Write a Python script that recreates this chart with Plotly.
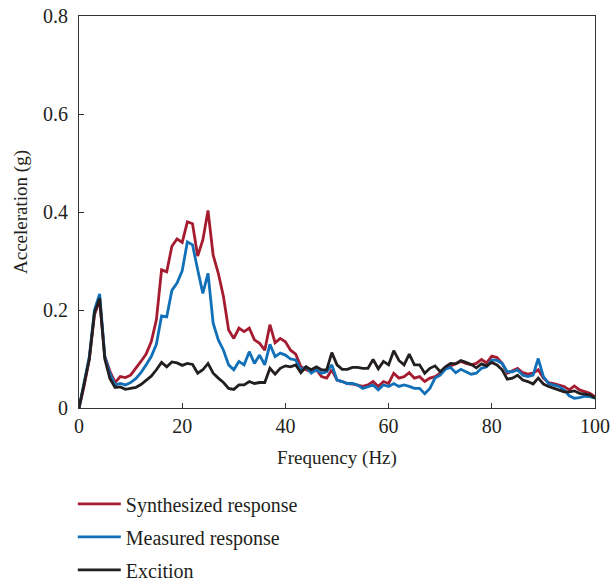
import plotly.graph_objects as go

freq = list(range(0, 101))

synthesized = [
    0, 0.045, 0.1, 0.19, 0.22, 0.105, 0.075, 0.052, 0.064, 0.062,
    0.067, 0.08, 0.095, 0.11, 0.135, 0.18, 0.282, 0.278, 0.33, 0.345,
    0.338, 0.38, 0.376, 0.31, 0.343, 0.403, 0.312, 0.275, 0.227, 0.159,
    0.142, 0.163, 0.156, 0.163, 0.139, 0.132, 0.118, 0.17, 0.133, 0.142,
    0.135, 0.118, 0.11, 0.084, 0.078, 0.074, 0.078, 0.064, 0.061, 0.078,
    0.057, 0.054, 0.05, 0.049, 0.047, 0.044, 0.047, 0.054, 0.044, 0.054,
    0.05, 0.071, 0.061, 0.064, 0.072, 0.061, 0.064, 0.054, 0.061, 0.064,
    0.071, 0.081, 0.086, 0.091, 0.095, 0.091, 0.088, 0.091, 0.099, 0.092,
    0.106, 0.103, 0.091, 0.071, 0.076, 0.081, 0.072, 0.069, 0.071, 0.078,
    0.061, 0.052, 0.05, 0.047, 0.044, 0.037, 0.045, 0.037, 0.033, 0.03,
    0.023,
]

measured = [
    0, 0.05, 0.105, 0.2, 0.233, 0.105, 0.07, 0.047, 0.05, 0.047,
    0.052, 0.06, 0.072, 0.088, 0.105, 0.13, 0.188, 0.186, 0.24, 0.255,
    0.28, 0.339, 0.333, 0.282, 0.234, 0.275, 0.173, 0.139, 0.118, 0.088,
    0.078, 0.095, 0.088, 0.115, 0.091, 0.108, 0.088, 0.13, 0.105, 0.112,
    0.108, 0.1, 0.098, 0.078, 0.084, 0.071, 0.078, 0.071, 0.074, 0.088,
    0.057, 0.054, 0.05, 0.05, 0.047, 0.04, 0.044, 0.047, 0.037, 0.047,
    0.044, 0.05, 0.044, 0.047, 0.044, 0.04, 0.04, 0.029, 0.04, 0.061,
    0.067, 0.079, 0.083, 0.072, 0.079, 0.074, 0.069, 0.071, 0.081, 0.084,
    0.098, 0.097, 0.091, 0.074, 0.074, 0.078, 0.067, 0.064, 0.067, 0.101,
    0.064, 0.05, 0.047, 0.044, 0.037, 0.025, 0.02, 0.021, 0.024, 0.023,
    0.02,
]

excitation = [
    0, 0.05, 0.1, 0.195, 0.224, 0.1, 0.06, 0.042, 0.043, 0.038,
    0.04, 0.042, 0.048, 0.056, 0.065, 0.078, 0.093, 0.084, 0.094, 0.092,
    0.087, 0.091, 0.089, 0.071, 0.078, 0.091, 0.071, 0.061, 0.052, 0.04,
    0.038, 0.047, 0.047, 0.054, 0.05, 0.052, 0.052, 0.081, 0.069, 0.081,
    0.086, 0.084, 0.088, 0.072, 0.084, 0.078, 0.084, 0.078, 0.078, 0.113,
    0.088, 0.079, 0.079, 0.083, 0.083, 0.081, 0.081, 0.099, 0.08, 0.095,
    0.088, 0.117, 0.097, 0.088, 0.11, 0.088, 0.088, 0.071, 0.081, 0.086,
    0.074, 0.084, 0.091, 0.09, 0.097, 0.093, 0.089, 0.082, 0.09, 0.086,
    0.093, 0.088, 0.078, 0.059, 0.061, 0.067, 0.057, 0.054, 0.049, 0.061,
    0.049, 0.044, 0.04, 0.037, 0.033, 0.033, 0.035, 0.03, 0.029, 0.027,
    0.02,
]

x_ticks = [0, 20, 40, 60, 80, 100]
y_ticks = [0, 0.2, 0.4, 0.6, 0.8]
y_tick_labels = ["0", "0.2", "0.4", "0.6", "0.8"]

series = [
    ("Synthesized response", synthesized, "#A51C30"),
    ("Measured response", measured, "#1170B8"),
    ("Excition", excitation, "#231F20"),
]

FONT = "Liberation Serif"

fig = go.Figure()
for i, (name, vals, color) in enumerate(series):
    fig.add_trace(go.Scatter(
        x=freq, y=vals, mode="lines", name=name,
        line=dict(color=color, width=2.8),
        legendgroup=f"g{i}",
    ))

axis_common = dict(
    showgrid=False, zeroline=False, showline=True, linecolor="#333333",
    linewidth=1, mirror=True, ticks="inside", ticklen=5, tickcolor="#333333",
    tickfont=dict(family=FONT, size=20, color="#231F20"),
    automargin=False,
)

fig.update_layout(
    width=610, height=582,
    margin=dict(l=79, r=15, t=16, b=174, autoexpand=False),
    paper_bgcolor="white", plot_bgcolor="white",
    font=dict(family=FONT, size=19, color="#231F20"),
    xaxis=dict(range=[0, 100], tickvals=x_ticks, ticklabelstandoff=0,
               title=dict(text="Frequency (Hz)", font=dict(family=FONT, size=19), standoff=14),
               **axis_common),
    yaxis=dict(range=[0, 0.8], tickvals=y_ticks, ticktext=y_tick_labels,
               ticklabelstandoff=6,
               title=dict(text="Acceleration (g)", font=dict(family=FONT, size=19), standoff=10),
               **axis_common),
    showlegend=True,
    legend=dict(
        x=-0.012, y=-0.195, xanchor="left", yanchor="top",
        orientation="v", tracegroupgap=4,
        font=dict(family=FONT, size=20, color="#231F20"),
        bgcolor="rgba(0,0,0,0)", itemwidth=43,
    ),
)

fig.write_html(
    "out.html",
    config={"displayModeBar": False},
    post_script="document.body.style.margin='0';",
)
